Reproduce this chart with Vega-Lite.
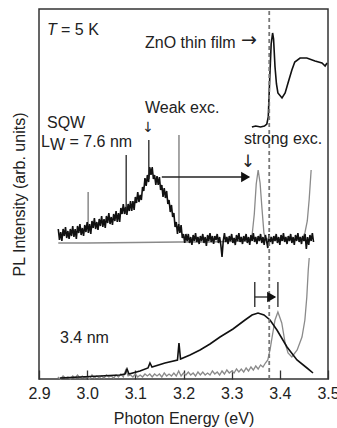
{
  "$schema": "https://vega.github.io/schema/vega-lite/v6.json",
  "width": 289,
  "height": 370,
  "autosize": {"type": "none"},
  "padding": {"left": 39, "top": 9, "right": 9, "bottom": 49},
  "background": "white",
  "config": {"view": {"stroke": "#333", "strokeWidth": 1.5}, "font": "Liberation Sans"},
  "datasets": {
    "spectra": [
      {"s":"sqw_strong","E":2.940,"y":136},{"s":"sqw_strong","E":3.000,"y":136},{"s":"sqw_strong","E":3.100,"y":136.5},{"s":"sqw_strong","E":3.190,"y":137},{"s":"sqw_strong","E":3.250,"y":137},{"s":"sqw_strong","E":3.335,"y":138},{"s":"sqw_strong","E":3.342,"y":142},{"s":"sqw_strong","E":3.347,"y":165},{"s":"sqw_strong","E":3.351,"y":195},{"s":"sqw_strong","E":3.355,"y":209},{"s":"sqw_strong","E":3.359,"y":196},{"s":"sqw_strong","E":3.363,"y":170},{"s":"sqw_strong","E":3.367,"y":146},{"s":"sqw_strong","E":3.371,"y":140},{"s":"sqw_strong","E":3.400,"y":139},{"s":"sqw_strong","E":3.445,"y":140},{"s":"sqw_strong","E":3.452,"y":146},{"s":"sqw_strong","E":3.457,"y":158},{"s":"sqw_strong","E":3.461,"y":180},{"s":"sqw_strong","E":3.465,"y":209},

      {"s":"n34_strong","E":2.939,"y":2},{"s":"n34_strong","E":2.945,"y":0},{"s":"n34_strong","E":2.950,"y":3},{"s":"n34_strong","E":2.955,"y":1},{"s":"n34_strong","E":2.960,"y":2},{"s":"n34_strong","E":2.965,"y":0},{"s":"n34_strong","E":2.970,"y":3},{"s":"n34_strong","E":2.975,"y":1},{"s":"n34_strong","E":2.980,"y":4},{"s":"n34_strong","E":2.985,"y":1},{"s":"n34_strong","E":2.990,"y":3},{"s":"n34_strong","E":2.995,"y":1},{"s":"n34_strong","E":3.000,"y":2},{"s":"n34_strong","E":3.005,"y":0},{"s":"n34_strong","E":3.010,"y":4},{"s":"n34_strong","E":3.015,"y":1},{"s":"n34_strong","E":3.020,"y":3},{"s":"n34_strong","E":3.025,"y":1},{"s":"n34_strong","E":3.030,"y":3},{"s":"n34_strong","E":3.035,"y":1},{"s":"n34_strong","E":3.040,"y":4},{"s":"n34_strong","E":3.045,"y":2},{"s":"n34_strong","E":3.050,"y":3},{"s":"n34_strong","E":3.055,"y":1},{"s":"n34_strong","E":3.060,"y":4},{"s":"n34_strong","E":3.065,"y":2},{"s":"n34_strong","E":3.070,"y":5},{"s":"n34_strong","E":3.075,"y":2},{"s":"n34_strong","E":3.080,"y":9},{"s":"n34_strong","E":3.085,"y":3},{"s":"n34_strong","E":3.090,"y":4},{"s":"n34_strong","E":3.095,"y":2},{"s":"n34_strong","E":3.100,"y":5},{"s":"n34_strong","E":3.105,"y":2},{"s":"n34_strong","E":3.110,"y":4},{"s":"n34_strong","E":3.115,"y":2},{"s":"n34_strong","E":3.120,"y":5},{"s":"n34_strong","E":3.125,"y":3},{"s":"n34_strong","E":3.130,"y":5},{"s":"n34_strong","E":3.135,"y":2},{"s":"n34_strong","E":3.140,"y":5},{"s":"n34_strong","E":3.145,"y":3},{"s":"n34_strong","E":3.150,"y":5},{"s":"n34_strong","E":3.155,"y":2},{"s":"n34_strong","E":3.160,"y":6},{"s":"n34_strong","E":3.165,"y":3},{"s":"n34_strong","E":3.170,"y":5},{"s":"n34_strong","E":3.175,"y":3},{"s":"n34_strong","E":3.180,"y":6},{"s":"n34_strong","E":3.185,"y":3},{"s":"n34_strong","E":3.190,"y":8},{"s":"n34_strong","E":3.195,"y":3},{"s":"n34_strong","E":3.200,"y":6},{"s":"n34_strong","E":3.205,"y":4},{"s":"n34_strong","E":3.210,"y":7},{"s":"n34_strong","E":3.215,"y":4},{"s":"n34_strong","E":3.220,"y":6},{"s":"n34_strong","E":3.225,"y":3},{"s":"n34_strong","E":3.230,"y":7},{"s":"n34_strong","E":3.235,"y":4},{"s":"n34_strong","E":3.240,"y":7},{"s":"n34_strong","E":3.245,"y":4},{"s":"n34_strong","E":3.250,"y":6},{"s":"n34_strong","E":3.255,"y":4},{"s":"n34_strong","E":3.260,"y":8},{"s":"n34_strong","E":3.265,"y":5},{"s":"n34_strong","E":3.270,"y":7},{"s":"n34_strong","E":3.275,"y":4},{"s":"n34_strong","E":3.280,"y":8},{"s":"n34_strong","E":3.285,"y":5},{"s":"n34_strong","E":3.290,"y":9},{"s":"n34_strong","E":3.295,"y":6},{"s":"n34_strong","E":3.300,"y":8},{"s":"n34_strong","E":3.305,"y":6},{"s":"n34_strong","E":3.310,"y":10},{"s":"n34_strong","E":3.315,"y":7},{"s":"n34_strong","E":3.320,"y":10},{"s":"n34_strong","E":3.325,"y":7},{"s":"n34_strong","E":3.330,"y":11},{"s":"n34_strong","E":3.335,"y":8},{"s":"n34_strong","E":3.340,"y":12},{"s":"n34_strong","E":3.345,"y":9},{"s":"n34_strong","E":3.350,"y":13},{"s":"n34_strong","E":3.355,"y":10},{"s":"n34_strong","E":3.360,"y":14},{"s":"n34_strong","E":3.365,"y":12},{"s":"n34_strong","E":3.370,"y":16},{"s":"n34_strong","E":3.375,"y":19},{"s":"n34_strong","E":3.380,"y":30},{"s":"n34_strong","E":3.384,"y":42},{"s":"n34_strong","E":3.390,"y":59},{"s":"n34_strong","E":3.396,"y":67},{"s":"n34_strong","E":3.404,"y":56},{"s":"n34_strong","E":3.411,"y":36},{"s":"n34_strong","E":3.417,"y":26},{"s":"n34_strong","E":3.425,"y":22},{"s":"n34_strong","E":3.436,"y":29},{"s":"n34_strong","E":3.446,"y":42},{"s":"n34_strong","E":3.452,"y":59},{"s":"n34_strong","E":3.456,"y":82},{"s":"n34_strong","E":3.459,"y":109},{"s":"n34_strong","E":3.461,"y":121},

      {"s":"sqw_weak","E":2.9400,"y":150},{"s":"sqw_weak","E":2.9425,"y":139},{"s":"sqw_weak","E":2.9450,"y":147},{"s":"sqw_weak","E":2.9475,"y":138},{"s":"sqw_weak","E":2.9500,"y":150},{"s":"sqw_weak","E":2.9525,"y":143},{"s":"sqw_weak","E":2.9550,"y":152},{"s":"sqw_weak","E":2.9575,"y":141},{"s":"sqw_weak","E":2.9600,"y":148},{"s":"sqw_weak","E":2.9625,"y":140},{"s":"sqw_weak","E":2.9650,"y":150},{"s":"sqw_weak","E":2.9675,"y":143},{"s":"sqw_weak","E":2.9700,"y":153},{"s":"sqw_weak","E":2.9725,"y":142},{"s":"sqw_weak","E":2.9750,"y":150},{"s":"sqw_weak","E":2.9775,"y":140},{"s":"sqw_weak","E":2.9800,"y":153},{"s":"sqw_weak","E":2.9825,"y":146},{"s":"sqw_weak","E":2.9850,"y":155},{"s":"sqw_weak","E":2.9875,"y":144},{"s":"sqw_weak","E":2.9900,"y":151},{"s":"sqw_weak","E":2.9925,"y":143},{"s":"sqw_weak","E":2.9950,"y":154},{"s":"sqw_weak","E":2.9975,"y":147},{"s":"sqw_weak","E":3.0000,"y":157},{"s":"sqw_weak","E":3.0025,"y":146},{"s":"sqw_weak","E":3.0050,"y":155},{"s":"sqw_weak","E":3.0075,"y":145},{"s":"sqw_weak","E":3.0100,"y":158},{"s":"sqw_weak","E":3.0125,"y":151},{"s":"sqw_weak","E":3.0150,"y":161},{"s":"sqw_weak","E":3.0175,"y":150},{"s":"sqw_weak","E":3.0200,"y":157},{"s":"sqw_weak","E":3.0225,"y":149},{"s":"sqw_weak","E":3.0250,"y":160},{"s":"sqw_weak","E":3.0275,"y":153},{"s":"sqw_weak","E":3.0300,"y":163},{"s":"sqw_weak","E":3.0325,"y":152},{"s":"sqw_weak","E":3.0350,"y":160},{"s":"sqw_weak","E":3.0375,"y":151},{"s":"sqw_weak","E":3.0400,"y":163},{"s":"sqw_weak","E":3.0425,"y":156},{"s":"sqw_weak","E":3.0450,"y":166},{"s":"sqw_weak","E":3.0475,"y":155},{"s":"sqw_weak","E":3.0500,"y":162},{"s":"sqw_weak","E":3.0525,"y":154},{"s":"sqw_weak","E":3.0550,"y":165},{"s":"sqw_weak","E":3.0575,"y":158},{"s":"sqw_weak","E":3.0600,"y":168},{"s":"sqw_weak","E":3.0625,"y":157},{"s":"sqw_weak","E":3.0650,"y":166},{"s":"sqw_weak","E":3.0675,"y":157},{"s":"sqw_weak","E":3.0700,"y":171},{"s":"sqw_weak","E":3.0725,"y":165},{"s":"sqw_weak","E":3.0750,"y":175},{"s":"sqw_weak","E":3.0775,"y":165},{"s":"sqw_weak","E":3.0800,"y":172},{"s":"sqw_weak","E":3.0825,"y":164},{"s":"sqw_weak","E":3.0850,"y":175},{"s":"sqw_weak","E":3.0875,"y":168},{"s":"sqw_weak","E":3.0900,"y":178},{"s":"sqw_weak","E":3.0925,"y":168},{"s":"sqw_weak","E":3.0950,"y":178},{"s":"sqw_weak","E":3.0975,"y":169},{"s":"sqw_weak","E":3.1000,"y":182},{"s":"sqw_weak","E":3.1025,"y":176},{"s":"sqw_weak","E":3.1050,"y":187},{"s":"sqw_weak","E":3.1075,"y":177},{"s":"sqw_weak","E":3.1100,"y":184},{"s":"sqw_weak","E":3.1125,"y":179},{"s":"sqw_weak","E":3.1150,"y":192},{"s":"sqw_weak","E":3.1175,"y":188},{"s":"sqw_weak","E":3.1200,"y":201},{"s":"sqw_weak","E":3.1225,"y":193},{"s":"sqw_weak","E":3.1250,"y":204},{"s":"sqw_weak","E":3.1275,"y":197},{"s":"sqw_weak","E":3.1300,"y":212},{"s":"sqw_weak","E":3.1325,"y":204},{"s":"sqw_weak","E":3.1350,"y":212},{"s":"sqw_weak","E":3.1375,"y":200},{"s":"sqw_weak","E":3.1400,"y":204},{"s":"sqw_weak","E":3.1425,"y":194},{"s":"sqw_weak","E":3.1450,"y":203},{"s":"sqw_weak","E":3.1475,"y":194},{"s":"sqw_weak","E":3.1500,"y":202},{"s":"sqw_weak","E":3.1525,"y":189},{"s":"sqw_weak","E":3.1550,"y":194},{"s":"sqw_weak","E":3.1575,"y":182},{"s":"sqw_weak","E":3.1600,"y":191},{"s":"sqw_weak","E":3.1625,"y":181},{"s":"sqw_weak","E":3.1650,"y":188},{"s":"sqw_weak","E":3.1675,"y":175},{"s":"sqw_weak","E":3.1700,"y":179},{"s":"sqw_weak","E":3.1725,"y":167},{"s":"sqw_weak","E":3.1750,"y":174},{"s":"sqw_weak","E":3.1775,"y":162},{"s":"sqw_weak","E":3.1800,"y":166},{"s":"sqw_weak","E":3.1825,"y":152},{"s":"sqw_weak","E":3.1850,"y":157},{"s":"sqw_weak","E":3.1875,"y":145},{"s":"sqw_weak","E":3.1900,"y":155},{"s":"sqw_weak","E":3.1925,"y":146},{"s":"sqw_weak","E":3.1950,"y":154},{"s":"sqw_weak","E":3.1975,"y":141},{"s":"sqw_weak","E":3.2000,"y":145},{"s":"sqw_weak","E":3.2025,"y":136},{"s":"sqw_weak","E":3.2050,"y":145},{"s":"sqw_weak","E":3.2075,"y":138},{"s":"sqw_weak","E":3.2100,"y":145},{"s":"sqw_weak","E":3.2125,"y":136},{"s":"sqw_weak","E":3.2150,"y":142},{"s":"sqw_weak","E":3.2175,"y":134},{"s":"sqw_weak","E":3.2200,"y":144},{"s":"sqw_weak","E":3.2225,"y":138},{"s":"sqw_weak","E":3.2250,"y":146},{"s":"sqw_weak","E":3.2275,"y":137},{"s":"sqw_weak","E":3.2300,"y":142},{"s":"sqw_weak","E":3.2325,"y":135},{"s":"sqw_weak","E":3.2350,"y":143},{"s":"sqw_weak","E":3.2375,"y":138},{"s":"sqw_weak","E":3.2400,"y":145},{"s":"sqw_weak","E":3.2425,"y":136},{"s":"sqw_weak","E":3.2450,"y":142},{"s":"sqw_weak","E":3.2475,"y":133},{"s":"sqw_weak","E":3.2500,"y":144},{"s":"sqw_weak","E":3.2525,"y":138},{"s":"sqw_weak","E":3.2550,"y":146},{"s":"sqw_weak","E":3.2575,"y":137},{"s":"sqw_weak","E":3.2600,"y":143},{"s":"sqw_weak","E":3.2625,"y":135},{"s":"sqw_weak","E":3.2650,"y":143},{"s":"sqw_weak","E":3.2675,"y":139},{"s":"sqw_weak","E":3.2700,"y":145},{"s":"sqw_weak","E":3.2725,"y":136},{"s":"sqw_weak","E":3.2750,"y":142},{"s":"sqw_weak","E":3.2775,"y":134},{"s":"sqw_weak","E":3.2800,"y":122},{"s":"sqw_weak","E":3.2825,"y":138},{"s":"sqw_weak","E":3.2850,"y":146},{"s":"sqw_weak","E":3.2875,"y":137},{"s":"sqw_weak","E":3.2900,"y":142},{"s":"sqw_weak","E":3.2925,"y":135},{"s":"sqw_weak","E":3.2950,"y":143},{"s":"sqw_weak","E":3.2975,"y":138},{"s":"sqw_weak","E":3.3000,"y":145},{"s":"sqw_weak","E":3.3025,"y":136},{"s":"sqw_weak","E":3.3050,"y":141},{"s":"sqw_weak","E":3.3075,"y":134},{"s":"sqw_weak","E":3.3100,"y":144},{"s":"sqw_weak","E":3.3125,"y":138},{"s":"sqw_weak","E":3.3150,"y":146},{"s":"sqw_weak","E":3.3175,"y":137},{"s":"sqw_weak","E":3.3200,"y":142},{"s":"sqw_weak","E":3.3225,"y":135},{"s":"sqw_weak","E":3.3250,"y":143},{"s":"sqw_weak","E":3.3275,"y":138},{"s":"sqw_weak","E":3.3300,"y":145},{"s":"sqw_weak","E":3.3325,"y":136},{"s":"sqw_weak","E":3.3350,"y":142},{"s":"sqw_weak","E":3.3375,"y":134},{"s":"sqw_weak","E":3.3400,"y":144},{"s":"sqw_weak","E":3.3425,"y":138},{"s":"sqw_weak","E":3.3450,"y":146},{"s":"sqw_weak","E":3.3475,"y":137},{"s":"sqw_weak","E":3.3500,"y":142},{"s":"sqw_weak","E":3.3525,"y":135},{"s":"sqw_weak","E":3.3550,"y":143},{"s":"sqw_weak","E":3.3575,"y":138},{"s":"sqw_weak","E":3.3600,"y":145},{"s":"sqw_weak","E":3.3625,"y":136},{"s":"sqw_weak","E":3.3650,"y":142},{"s":"sqw_weak","E":3.3675,"y":134},{"s":"sqw_weak","E":3.3700,"y":144},{"s":"sqw_weak","E":3.3725,"y":138},{"s":"sqw_weak","E":3.3750,"y":131},{"s":"sqw_weak","E":3.3775,"y":145},{"s":"sqw_weak","E":3.3800,"y":137},{"s":"sqw_weak","E":3.3825,"y":142},{"s":"sqw_weak","E":3.3850,"y":135},{"s":"sqw_weak","E":3.3875,"y":143},{"s":"sqw_weak","E":3.3900,"y":138},{"s":"sqw_weak","E":3.3925,"y":145},{"s":"sqw_weak","E":3.3950,"y":136},{"s":"sqw_weak","E":3.3975,"y":142},{"s":"sqw_weak","E":3.4000,"y":134},{"s":"sqw_weak","E":3.4025,"y":144},{"s":"sqw_weak","E":3.4050,"y":138},{"s":"sqw_weak","E":3.4075,"y":146},{"s":"sqw_weak","E":3.4100,"y":137},{"s":"sqw_weak","E":3.4125,"y":142},{"s":"sqw_weak","E":3.4150,"y":135},{"s":"sqw_weak","E":3.4175,"y":143},{"s":"sqw_weak","E":3.4200,"y":138},{"s":"sqw_weak","E":3.4225,"y":145},{"s":"sqw_weak","E":3.4250,"y":136},{"s":"sqw_weak","E":3.4275,"y":142},{"s":"sqw_weak","E":3.4300,"y":134},{"s":"sqw_weak","E":3.4325,"y":144},{"s":"sqw_weak","E":3.4350,"y":138},{"s":"sqw_weak","E":3.4375,"y":146},{"s":"sqw_weak","E":3.4400,"y":137},{"s":"sqw_weak","E":3.4425,"y":142},{"s":"sqw_weak","E":3.4450,"y":135},{"s":"sqw_weak","E":3.4475,"y":143},{"s":"sqw_weak","E":3.4500,"y":138},{"s":"sqw_weak","E":3.4525,"y":145},{"s":"sqw_weak","E":3.4550,"y":130},{"s":"sqw_weak","E":3.4575,"y":142},{"s":"sqw_weak","E":3.4600,"y":134},{"s":"sqw_weak","E":3.4625,"y":144},{"s":"sqw_weak","E":3.4650,"y":138},{"s":"sqw_weak","E":3.4675,"y":146},{"s":"sqw_weak","E":3.4700,"y":137},

      {"s":"film","E":3.342,"y":252},{"s":"film","E":3.350,"y":253},{"s":"film","E":3.360,"y":252},{"s":"film","E":3.368,"y":253},{"s":"film","E":3.373,"y":255},{"s":"film","E":3.376,"y":262},{"s":"film","E":3.379,"y":300},{"s":"film","E":3.382,"y":335},{"s":"film","E":3.385,"y":346},{"s":"film","E":3.387,"y":340},{"s":"film","E":3.390,"y":312},{"s":"film","E":3.393,"y":295},{"s":"film","E":3.396,"y":286},{"s":"film","E":3.4045,"y":281},{"s":"film","E":3.411,"y":286},{"s":"film","E":3.417,"y":296},{"s":"film","E":3.425,"y":309},{"s":"film","E":3.431,"y":317},{"s":"film","E":3.442,"y":321},{"s":"film","E":3.456,"y":321},{"s":"film","E":3.473,"y":318},{"s":"film","E":3.4875,"y":316},{"s":"film","E":3.494,"y":313},{"s":"film","E":3.498,"y":316},

      {"s":"n34_weak","E":2.9436,"y":1},{"s":"n34_weak","E":2.985,"y":2},{"s":"n34_weak","E":3.0266,"y":3},{"s":"n34_weak","E":3.068,"y":4},{"s":"n34_weak","E":3.0785,"y":5},{"s":"n34_weak","E":3.0827,"y":10},{"s":"n34_weak","E":3.0868,"y":5},{"s":"n34_weak","E":3.1097,"y":8},{"s":"n34_weak","E":3.1263,"y":11},{"s":"n34_weak","E":3.1304,"y":16},{"s":"n34_weak","E":3.1346,"y":12},{"s":"n34_weak","E":3.1616,"y":16},{"s":"n34_weak","E":3.1875,"y":19},{"s":"n34_weak","E":3.1906,"y":36},{"s":"n34_weak","E":3.1938,"y":20},{"s":"n34_weak","E":3.2135,"y":24},{"s":"n34_weak","E":3.2343,"y":29},{"s":"n34_weak","E":3.255,"y":35},{"s":"n34_weak","E":3.2758,"y":42},{"s":"n34_weak","E":3.3028,"y":50},{"s":"n34_weak","E":3.3277,"y":59},{"s":"n34_weak","E":3.3422,"y":64},{"s":"n34_weak","E":3.3547,"y":66},{"s":"n34_weak","E":3.3671,"y":64},{"s":"n34_weak","E":3.3796,"y":59},{"s":"n34_weak","E":3.394,"y":49},{"s":"n34_weak","E":3.4149,"y":32},{"s":"n34_weak","E":3.4356,"y":19},{"s":"n34_weak","E":3.4564,"y":11},{"s":"n34_weak","E":3.4689,"y":6}
    ],
    "segments": [
      {"s":"sqw_strong","E":3.002,"y":150,"E2":3.002,"y2":187},
      {"s":"sqw_strong","E":3.1906,"y":151,"E2":3.1906,"y2":244},
      {"s":"sqw_weak","E":3.081,"y":165,"E2":3.081,"y2":224},
      {"s":"sqw_weak","E":3.128,"y":200,"E2":3.128,"y2":239},
      {"s":"arrow","E":3.155,"y":202,"E2":3.335,"y2":202},
      {"s":"arrow","E":3.348,"y":72,"E2":3.348,"y2":97},
      {"s":"arrow","E":3.396,"y":72,"E2":3.396,"y2":97},
      {"s":"arrow","E":3.348,"y":82,"E2":3.390,"y2":82},
      {"s":"dash","E":3.378,"y":0,"E2":3.378,"y2":370}
    ],
    "heads": [
      {"E":3.329,"y":202},
      {"E":3.383,"y":82}
    ],
    "notes": [
      {"E":2.9457,"y":344,"t":"= 5 K"},
      {"E":3.1201,"y":331,"t":"ZnO thin film"},
      {"E":3.1201,"y":266,"t":"Weak exc."},
      {"E":2.9166,"y":251,"t":"SQW"},
      {"E":2.9042,"y":232,"t":"L"},
      {"E":2.9229,"y":229,"t":"W"},
      {"E":2.9633,"y":232,"t":"= 7.6 nm"},
      {"E":3.3256,"y":235,"t":"strong exc."},
      {"E":2.9436,"y":36,"t":"3.4 nm"}
    ]
  },
  "encoding": {
    "x": {
      "field": "E", "type": "quantitative",
      "scale": {"domain": [2.9, 3.5], "nice": false, "zero": false},
      "axis": {
        "values": [2.9, 3.0, 3.1, 3.2, 3.3, 3.4, 3.5], "format": ".1f",
        "title": "Photon Energy (eV)", "titleFontSize": 16, "titleFontWeight": "normal", "titleColor": "#222",
        "labelFontSize": 16, "labelColor": "#222", "labelPadding": 15, "labelFlush": false, "labelOverlap": false,
        "ticks": true, "tickSize": -9, "tickColor": "#333", "tickWidth": 1.3,
        "domain": false, "grid": false, "titlePadding": 9
      }
    },
    "y": {
      "field": "y", "type": "quantitative",
      "scale": {"domain": [0, 370], "nice": false, "zero": false},
      "axis": {
        "title": "PL Intensity (arb. units)", "titleFontSize": 16, "titleFontWeight": "normal", "titleColor": "#222",
        "labels": false, "ticks": false, "domain": false, "grid": false, "titlePadding": 12
      }
    }
  },
  "layer": [
    {
      "data": {"name": "spectra"},
      "transform": [{"filter": {"field": "s", "oneOf": ["sqw_strong", "n34_strong"]}}],
      "mark": {"type": "line", "color": "#8a8a8a", "strokeWidth": 1.3},
      "encoding": {"detail": {"field": "s"}}
    },
    {
      "data": {"name": "segments"},
      "transform": [{"filter": {"field": "s", "equal": "sqw_strong"}}],
      "mark": {"type": "rule", "color": "#777", "strokeWidth": 1.3},
      "encoding": {"x2": {"field": "E2"}, "y2": {"field": "y2"}}
    },
    {
      "data": {"name": "spectra"},
      "transform": [{"filter": {"field": "s", "oneOf": ["sqw_weak", "film", "n34_weak"]}}],
      "mark": {"type": "line", "color": "#111", "strokeWidth": 1.6},
      "encoding": {"detail": {"field": "s"}}
    },
    {
      "data": {"name": "segments"},
      "transform": [{"filter": {"field": "s", "oneOf": ["sqw_weak", "arrow"]}}],
      "mark": {"type": "rule", "color": "#222", "strokeWidth": 1.3},
      "encoding": {"x2": {"field": "E2"}, "y2": {"field": "y2"}}
    },
    {
      "data": {"name": "segments"},
      "transform": [{"filter": {"field": "s", "equal": "dash"}}],
      "mark": {"type": "rule", "color": "#777", "strokeWidth": 1.8, "strokeDash": [4, 3]},
      "encoding": {"x2": {"field": "E2"}, "y2": {"field": "y2"}}
    },
    {
      "data": {"name": "heads"},
      "mark": {"type": "point", "shape": "triangle-right", "filled": true, "color": "#111", "size": 110, "opacity": 1}
    },
    {
      "data": {"name": "notes"},
      "mark": {"type": "text", "align": "left", "baseline": "alphabetic", "fontSize": 16, "font": "Liberation Sans", "color": "#222"},
      "encoding": {"text": {"field": "t"}}
    },
    {
      "data": {"values": [{"E": 2.9166, "y": 344, "t": "T"}]},
      "mark": {"type": "text", "align": "left", "baseline": "alphabetic", "fontSize": 16, "fontStyle": "italic", "font": "Liberation Sans", "color": "#222"},
      "encoding": {"text": {"field": "t"}}
    },
    {
      "data": {"values": [{"E": 3.1263, "y": 247, "t": "↓"}]},
      "mark": {"type": "text", "align": "center", "baseline": "alphabetic", "fontSize": 14, "font": "DejaVu Sans", "color": "#222"},
      "encoding": {"text": {"field": "t"}}
    },
    {
      "data": {"values": [{"E": 3.3339, "y": 212, "t": "↓"}]},
      "mark": {"type": "text", "align": "center", "baseline": "alphabetic", "fontSize": 17, "font": "DejaVu Sans", "color": "#222"},
      "encoding": {"text": {"field": "t"}}
    },
    {
      "data": {"values": [{"E": 3.3194, "y": 333, "t": "→"}]},
      "mark": {"type": "text", "align": "left", "baseline": "alphabetic", "fontSize": 19, "font": "DejaVu Sans", "color": "#222"},
      "encoding": {"text": {"field": "t"}}
    }
  ]
}
